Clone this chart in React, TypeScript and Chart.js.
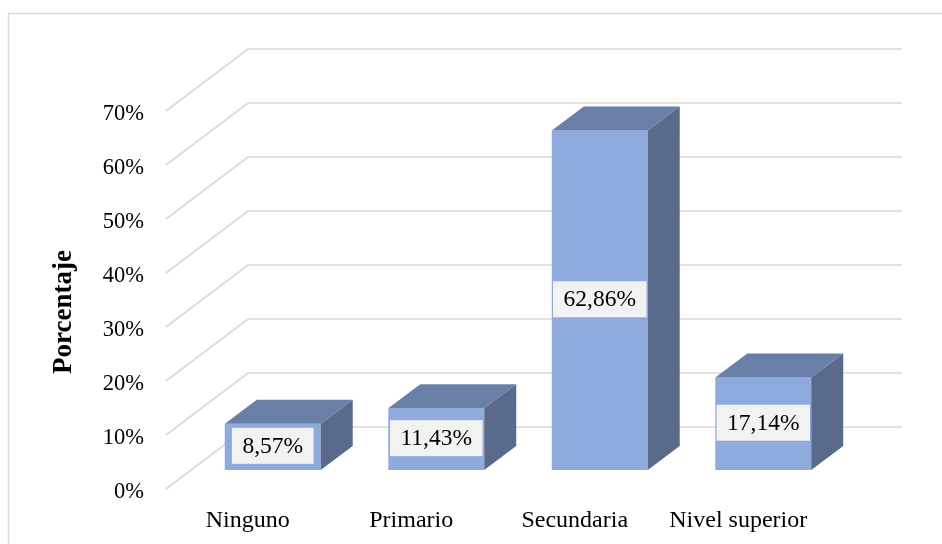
import { useEffect, useRef } from "react";
import { Chart, registerables } from "chart.js";

Chart.register(...registerables);

// Nivel educativo: share of respondents per category
const categories = ["Ninguno", "Primario", "Secundaria", "Nivel superior"];
const percentages = [8.57, 11.43, 62.86, 17.14];
const yTickValues = [0, 10, 20, 30, 40, 50, 60, 70];
const axisTitle = "Porcentaje";

const FONT = "'Liberation Serif', 'Times New Roman', serif";
const FRONT_COLOR = "#8FAADC";
const TOP_COLOR = "#6A7FA8";
const SIDE_COLOR = "#5A6A8B";
const GRID_COLOR = "#D9D9D9";

// Oblique projection offsets, relative to the plane of the bar fronts
const FLOOR_FRONT = { dx: -25, dy: 19 };
const WALL_BACK = { dx: 57, dy: -43 };
const BAR_DEPTH = { dx: 32, dy: -24 };

const formatPct = (v: number) => v.toFixed(2).replace(".", ",") + "%";

const box3d = {
  id: "box3d",
  beforeDraw(chart: any) {
    const ctx = chart.ctx;
    ctx.save();
    ctx.strokeStyle = GRID_COLOR;
    ctx.lineWidth = 1.5;
    ctx.strokeRect(8.5, 13.5, 1000, 1000);
    ctx.restore();
  },
  beforeDatasetsDraw(chart: any) {
    const { ctx, chartArea } = chart;
    const y = chart.scales.y;
    ctx.save();
    ctx.strokeStyle = GRID_COLOR;
    ctx.lineWidth = 1.6;
    ctx.lineJoin = "miter";
    for (const v of yTickValues) {
      const p = y.getPixelForValue(v);
      ctx.beginPath();
      ctx.moveTo(chartArea.left + FLOOR_FRONT.dx, p + FLOOR_FRONT.dy);
      ctx.lineTo(chartArea.left + WALL_BACK.dx, p + WALL_BACK.dy);
      ctx.lineTo(chartArea.right + WALL_BACK.dx, p + WALL_BACK.dy);
      ctx.stroke();
    }
    ctx.restore();
  },
  afterDatasetsDraw(chart: any) {
    const { ctx } = chart;
    const meta = chart.getDatasetMeta(0);
    const values = chart.data.datasets[0].data as number[];
    ctx.save();
    meta.data.forEach((el: any, i: number) => {
      const { x, y, base, width } = el.getProps(["x", "y", "base", "width"], true);
      const x0 = x - width / 2;
      const x1 = x + width / 2;
      // top face
      ctx.fillStyle = TOP_COLOR;
      ctx.beginPath();
      ctx.moveTo(x0, y);
      ctx.lineTo(x1, y);
      ctx.lineTo(x1 + BAR_DEPTH.dx, y + BAR_DEPTH.dy);
      ctx.lineTo(x0 + BAR_DEPTH.dx, y + BAR_DEPTH.dy);
      ctx.closePath();
      ctx.fill();
      // right side face
      ctx.fillStyle = SIDE_COLOR;
      ctx.beginPath();
      ctx.moveTo(x1, y);
      ctx.lineTo(x1 + BAR_DEPTH.dx, y + BAR_DEPTH.dy);
      ctx.lineTo(x1 + BAR_DEPTH.dx, base + BAR_DEPTH.dy);
      ctx.lineTo(x1, base);
      ctx.closePath();
      ctx.fill();

      // value label in a light box on the front face
      const text = formatPct(values[i]);
      ctx.font = `23.5px ${FONT}`;
      const tw = ctx.measureText(text).width;
      const bw = tw + 21;
      const bh = 36;
      const cy = (y + base) / 2 - 1;
      ctx.fillStyle = "#F2F2F2";
      ctx.fillRect(x - bw / 2, cy - bh / 2, bw, bh);
      ctx.fillStyle = "#000000";
      ctx.textAlign = "center";
      ctx.textBaseline = "middle";
      ctx.fillText(text, x, cy + 1);
    });
    ctx.restore();
  },
  afterDraw(chart: any) {
    const ctx = chart.ctx;
    ctx.save();
    ctx.translate(64, 312);
    ctx.rotate(-Math.PI / 2);
    ctx.font = `bold 27px ${FONT}`;
    ctx.fillStyle = "#000000";
    ctx.textAlign = "center";
    ctx.textBaseline = "middle";
    ctx.fillText(axisTitle, 0, 0);
    ctx.restore();
  },
};

export default function App() {
  const canvasRef = useRef<HTMLCanvasElement | null>(null);

  useEffect(() => {
    if (!canvasRef.current) return;
    const chart = new Chart(canvasRef.current, {
      type: "bar",
      data: {
        labels: categories,
        datasets: [
          {
            data: percentages,
            backgroundColor: FRONT_COLOR,
            borderWidth: 0,
            barPercentage: 0.587,
            categoryPercentage: 1,
          },
        ],
      },
      options: {
        animation: false,
        responsive: false,
        devicePixelRatio: 1,
        layout: { padding: { left: 0, top: 92, right: 97, bottom: 0 } },
        plugins: {
          legend: { display: false },
          tooltip: { enabled: false },
        },
        scales: {
          x: {
            type: "category",
            offset: true,
            grid: { display: false, drawTicks: false },
            border: { display: false },
            ticks: {
              color: "#000000",
              font: { family: FONT, size: 24 },
              padding: 36,
              labelOffset: FLOOR_FRONT.dx,
              maxRotation: 0,
              autoSkip: false,
            },
            afterFit(scale: any) {
              scale.height = 74;
              scale.paddingLeft = 0;
              scale.paddingRight = 0;
            },
          },
          y: {
            type: "linear",
            min: yTickValues[0],
            max: yTickValues[yTickValues.length - 1],
            grid: { display: false, drawTicks: false },
            border: { display: false },
            ticks: {
              stepSize: 10,
              color: "#000000",
              font: { family: FONT, size: 22.5 },
              padding: 22 - FLOOR_FRONT.dx,
              labelOffset: FLOOR_FRONT.dy + 3,
              callback: (v: any) => `${v}%`,
            },
            afterFit(scale: any) {
              scale.width = 191;
              scale.paddingTop = 0;
              scale.paddingBottom = 0;
            },
          },
        },
      },
      plugins: [box3d],
    });
    return () => chart.destroy();
  }, []);

  return (
    <div style={{ position: "fixed", left: 0, top: 0, width: 942, height: 544, background: "#ffffff" }}>
      <canvas ref={canvasRef} width={942} height={544} style={{ display: "block" }} />
    </div>
  );
}
